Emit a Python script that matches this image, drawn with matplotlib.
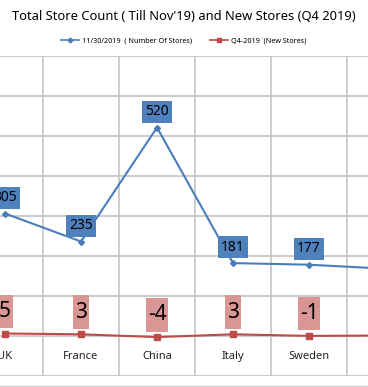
import matplotlib.pyplot as plt
from matplotlib.lines import Line2D
from matplotlib.path import Path

# donnees
pays = ["UK", "France", "China", "Italy", "Sweden", ""]
nb_magasins = [305, 235, 520, 181, 177, 167]
nouveaux = [5, 3, -4, 3, -1, 0]

bleu = "#4A7EBB"
rouge = "#BE4B48"

plt.rcParams['font.family'] = ['Noto Sans', 'DejaVu Sans']


# boite rectangulaire avec marge horizontale et verticale differentes
def boite(padx, pady):
    def f(x0, y0, width, height, mutation_size):
        px = padx * mutation_size
        py = pady * mutation_size
        x0, y0 = x0 - px, y0 - py
        x1, y1 = x0 + width + 2 * px, y0 + height + 2 * py
        return Path([(x0, y0), (x1, y0), (x1, y1), (x0, y1), (x0, y0)], closed=True)
    return f


fig = plt.figure(figsize=(3.68, 3.87), dpi=100)
ax = fig.add_axes([0, 11.5 / 387, 1, 320 / 387])

x = list(range(len(pays)))
ax.plot(x, nb_magasins, color=bleu, lw=1.5, marker="D", ms=3, zorder=3)
ax.plot(x, nouveaux, color=rouge, lw=1.5, marker="s", ms=4.5, zorder=3)

# grille
ax.set_yticks(range(-100, 701, 100))
ax.set_xticks([i + 0.5 for i in range(len(pays))])
ax.grid(True, color="#C8C8C8", lw=1.3)
ax.tick_params(length=0, labelbottom=False, labelleft=False)
for s in ax.spines.values():
    s.set_visible(False)

ax.set_xlim(-5 / 76, 363 / 76)
ax.set_ylim(-100, 700)

# etiquettes des categories
for i, p in enumerate(pays):
    ax.text(i, -52, p, ha="center", va="center", fontsize=8, color="#222222", clip_on=True)

# etiquettes des valeurs
for i, v in enumerate(nb_magasins):
    ax.annotate(str(v), (i, v), xytext=(0, 11.5), textcoords="offset points",
                ha="center", va="center", fontsize=10, zorder=4,
                bbox=dict(boxstyle=boite(0.2, 0.25), fc="#4F81BD", ec="none"))
for i, v in enumerate(nouveaux):
    ax.annotate(str(v), (i, v), xytext=(0, 16), textcoords="offset points",
                ha="center", va="center", fontsize=15, zorder=4,
                bbox=dict(boxstyle=boite(0.08, 0.3), fc="#D99694", ec="none"))

fig.text(0.5, 1 - 17 / 387, "Total Store Count ( Till Nov'19) and New Stores (Q4 2019)",
         ha="center", va="center", fontsize=9.3)

poignees = [Line2D([], [], color=bleu, marker="D", ms=2.5, lw=1.2),
            Line2D([], [], color=rouge, marker="s", ms=3, lw=1.2)]
fig.legend(poignees, ["11/30/2019  ( Number Of Stores)", "Q4-2019  (New Stores)"],
           loc="center", bbox_to_anchor=(0.5, 1 - 41 / 387), ncol=2, frameon=False,
           fontsize=5.2, handlelength=2.5, columnspacing=2.5, handletextpad=0.4)

fig.add_artist(Line2D([0, 1], [1.5 / 387, 1.5 / 387], color="#D0D0D0", lw=1))

plt.savefig("out.png")
